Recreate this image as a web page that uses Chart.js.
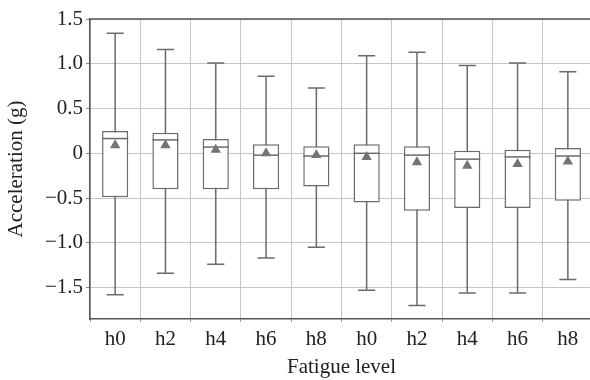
<!DOCTYPE html>
<html>
<head>
<meta charset="utf-8">
<script src="https://cdn.jsdelivr.net/npm/chart.js@4/dist/chart.umd.min.js"></script>
<style>
    html, body { margin: 0; padding: 0; background: #fff; overflow: hidden; }
    #wrap { width: 590px; height: 380px; overflow: hidden; }
</style>
</head>
<body>
<div id="wrap"><canvas id="chart" width="599" height="380"></canvas></div>
<script>
    let labels = ['h0', 'h2', 'h4', 'h6', 'h8', 'h0', 'h2', 'h4', 'h6', 'h8']

    let whiskerHigh = [1.34, 1.16, 1.01, 0.86, 0.73, 1.09, 1.13, 0.98, 1.01, 0.91]
    let upperQuartile = [0.25, 0.23, 0.16, 0.10, 0.08, 0.10, 0.08, 0.03, 0.04, 0.06]
    let medians = [0.165, 0.15, 0.07, -0.02, -0.03, 0.00, -0.02, -0.065, -0.04, -0.03]
    let means = [0.09, 0.09, 0.04, 0.00, -0.02, -0.04, -0.10, -0.14, -0.12, -0.09]
    let lowerQuartile = [-0.49, -0.40, -0.40, -0.40, -0.37, -0.55, -0.64, -0.61, -0.61, -0.53]
    let whiskerLow = [-1.58, -1.34, -1.24, -1.17, -1.05, -1.53, -1.70, -1.56, -1.56, -1.41]

    let yTicks = [1.5, 1.0, 0.5, 0, -0.5, -1.0, -1.5]

    const lineColor = '#6b6b6b'
    const serif = 'Liberation Serif'

    // whiskers go under the boxes, medians and the frame on top
    const boxPlot = {
        id: 'boxPlot',
        beforeDatasetsDraw(chart) {
            let {ctx, scales: {x, y}} = chart
            let cap = (x.getPixelForValue(1) - x.getPixelForValue(0)) * 0.17
            ctx.save()
            ctx.strokeStyle = lineColor
            ctx.lineWidth = 1.5
            whiskerHigh.forEach((hi, i) => {
                let px = x.getPixelForValue(i)
                let top = y.getPixelForValue(hi)
                let bot = y.getPixelForValue(whiskerLow[i])
                ctx.beginPath()
                ctx.moveTo(px, top)
                ctx.lineTo(px, bot)
                ctx.moveTo(px - cap, top)
                ctx.lineTo(px + cap, top)
                ctx.moveTo(px - cap, bot)
                ctx.lineTo(px + cap, bot)
                ctx.stroke()
            })
            ctx.restore()
        },
        afterDatasetDraw(chart, args) {
            if (args.index !== 0) return
            let {ctx, scales: {y}} = chart
            ctx.save()
            ctx.strokeStyle = lineColor
            ctx.lineWidth = 1.5
            args.meta.data.forEach((bar, i) => {
                let half = bar.width / 2
                let py = y.getPixelForValue(medians[i])
                ctx.beginPath()
                ctx.moveTo(bar.x - half, py)
                ctx.lineTo(bar.x + half, py)
                ctx.stroke()
            })
            ctx.restore()
        },
        afterDraw(chart) {
            let {ctx, chartArea: a} = chart
            ctx.save()
            ctx.strokeStyle = '#555'
            ctx.lineWidth = 1.5
            ctx.beginPath()
            ctx.moveTo(a.left, a.top)
            ctx.lineTo(a.right, a.top)
            ctx.stroke()
            ctx.restore()
        },
    }

    new Chart(document.getElementById('chart'), {
        type: 'bar',
        data: {
            labels,
            datasets: [
                {
                    label: 'IQR',
                    data: lowerQuartile.map((lo, i) => [lo, upperQuartile[i]]),
                    backgroundColor: '#fff',
                    borderColor: lineColor,
                    borderWidth: 1.5,
                    borderSkipped: false,
                    barPercentage: 0.52,
                    categoryPercentage: 1.0,
                    order: 2,
                },
                {
                    type: 'line',
                    label: 'Mean',
                    data: means,
                    showLine: false,
                    pointStyle: 'triangle',
                    pointRadius: 6,
                    pointBackgroundColor: '#747474',
                    pointBorderColor: '#747474',
                    pointBorderWidth: 0,
                    order: 1,
                },
            ],
        },
        options: {
            responsive: false,
            animation: false,
            layout: {padding: {top: 19, right: 0, bottom: 0, left: 0}},
            plugins: {
                legend: {display: false},
                tooltip: {enabled: false},
            },
            scales: {
                x: {
                    grid: {color: '#c6c6c6', lineWidth: 1, tickLength: 3, tickColor: '#999'},
                    border: {color: '#555', width: 1.5},
                    ticks: {
                        color: '#222',
                        padding: 5,
                        font: {family: serif, size: 21},
                    },
                    title: {
                        display: true,
                        text: 'Fatigue level',
                        color: '#222',
                        padding: {top: 0, bottom: 0},
                        font: {family: serif, size: 21},
                    },
                    afterFit(scale) {
                        scale.height = 61
                    },
                },
                y: {
                    min: -1.85,
                    max: 1.5,
                    grid: {color: '#c6c6c6', lineWidth: 1, tickLength: 4, tickColor: '#888'},
                    border: {color: '#555', width: 1.5},
                    afterBuildTicks(scale) {
                        scale.ticks = yTicks.map((value) => ({value}))
                    },
                    ticks: {
                        color: '#222',
                        padding: 3,
                        font: {family: serif, size: 21},
                        callback(value) {
                            if (value === 0) return '0'
                            let text = Math.abs(value).toFixed(1)
                            return value < 0 ? '\u2212' + text : text
                        },
                    },
                    title: {
                        display: true,
                        text: 'Acceleration (g)',
                        color: '#222',
                        padding: {top: 4, bottom: 0},
                        font: {family: serif, size: 21},
                    },
                    afterFit(scale) {
                        scale.width = 90
                    },
                },
            },
        },
        plugins: [boxPlot],
    })
</script>
</body>
</html>
